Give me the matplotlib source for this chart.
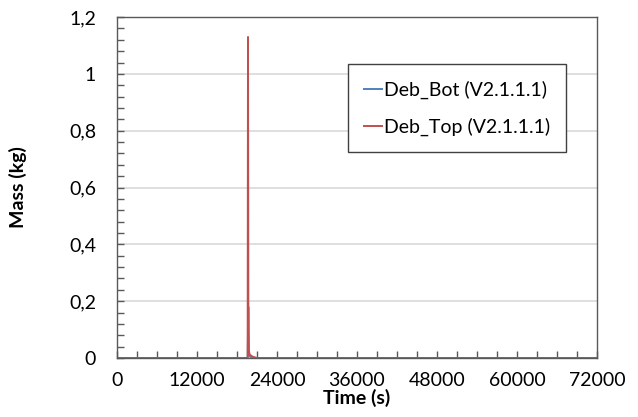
import matplotlib.pyplot as plt
from matplotlib.ticker import FixedLocator, MultipleLocator

plt.rcParams["font.family"] = ["Lato", "DejaVu Sans"]

# debris mass histories (time in s, mass in kg)
bot_time = [0, 19400, 19600, 19700, 19800, 20200, 72000]
bot_mass = [0.0, 0.0, 0.0, 0.18, 0.01, 0.0, 0.0]

top_time = [0, 19400, 19600, 19650, 19700, 19750, 19900, 20300, 21000, 72000]
top_mass = [0.0, 0.0, 0.0, 1.13, 0.18, 0.03, 0.012, 0.005, 0.0, 0.0]

x_ticks = [0, 12000, 24000, 36000, 48000, 60000, 72000]
y_ticks = [0, 0.2, 0.4, 0.6, 0.8, 1.0, 1.2]
y_tick_labels = ["0", "0,2", "0,4", "0,6", "0,8", "1", "1,2"]

fig = plt.figure(figsize=(6.38, 4.17), dpi=100)
ax = fig.add_axes([0.1834, 0.1415, 0.7523, 0.8175])

ax.plot(bot_time, bot_mass, color="#4F81BD", lw=1.4, label="Deb_Bot (V2.1.1.1)")
ax.plot(top_time, top_mass, color="#C0504D", lw=1.4, label="Deb_Top (V2.1.1.1)")

ax.set_xlim(0, 72000)
ax.set_ylim(0, 1.2)
ax.xaxis.set_major_locator(FixedLocator(x_ticks))
ax.xaxis.set_minor_locator(MultipleLocator(3000))
ax.yaxis.set_major_locator(FixedLocator(y_ticks))
ax.yaxis.set_minor_locator(MultipleLocator(0.04))
ax.set_yticklabels(y_tick_labels)

ax.tick_params(which="both", direction="in", color="#595959", width=1)
ax.tick_params(which="major", length=5, labelsize=14, pad=10)
ax.tick_params(which="minor", length=5)
ax.tick_params(axis="y", pad=15)

ax.grid(axis="y", which="major", color="#d9d9d9", lw=1.2)
ax.set_axisbelow(True)
for side in ax.spines.values():
    side.set_color("#595959")
    side.set_linewidth(1.0)

ax.set_xlabel("Time (s)", fontsize=14, fontweight="bold", labelpad=0)
ax.set_ylabel("Mass (kg)", fontsize=14, fontweight="bold", labelpad=30)

leg = ax.legend(loc="upper left", bbox_to_anchor=(0.481, 0.862), fontsize=14,
                handlelength=0.9, handletextpad=0.1, labelspacing=0.95,
                borderpad=0.85, borderaxespad=0, fancybox=False, framealpha=1)
leg.get_frame().set_edgecolor("#404040")
leg.get_frame().set_linewidth(1.0)

fig.savefig("out.png", dpi=100)
